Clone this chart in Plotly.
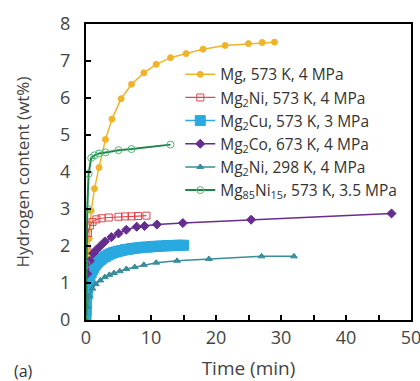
import plotly.graph_objects as go

# Mg, 573 K, 4 MPa
mg_t = [0, 0.25, 0.5, 0.8, 1.3, 2.0, 3.0, 4.0, 5.4, 7.0, 8.9, 10.8, 13.0, 15.4, 18.0, 21.4, 25.0, 27.1, 29.0]
mg_h = [0, 1.2, 2.2, 2.95, 3.55, 4.12, 4.88, 5.43, 5.98, 6.37, 6.68, 6.91, 7.09, 7.2, 7.32, 7.42, 7.47, 7.5, 7.51]

# Mg2Ni, 573 K, 4 MPa
mg2ni_t = [0.1, 0.3, 0.6, 1.0, 1.6, 2.4, 3.5, 5.0, 6.0, 7.0, 8.0, 9.3]
mg2ni_h = [1.9, 2.35, 2.55, 2.65, 2.72, 2.75, 2.77, 2.79, 2.8, 2.8, 2.81, 2.82]

# Mg2Cu, 573 K, 3 MPa
mg2cu_t = [0, 0.05, 0.1, 0.2, 0.3, 0.4, 0.5, 0.6, 0.8, 1.0, 1.2, 1.4, 1.6, 1.8, 2.0, 2.3, 2.6, 3.0, 3.4,
           3.8, 4.2, 4.6, 5.0, 5.5, 6.0, 6.5, 7.0, 7.5, 8.0, 8.5, 9.0, 9.5, 10.0, 10.5, 11.0, 11.5, 12.0,
           12.5, 13.0, 13.5, 14.0, 14.5, 15.0]
mg2cu_h = [0, 0.25, 0.45, 0.7, 0.88, 1.0, 1.1, 1.18, 1.28, 1.36, 1.42, 1.48, 1.53, 1.57, 1.6, 1.64, 1.68,
           1.72, 1.76, 1.79, 1.82, 1.84, 1.86, 1.88, 1.9, 1.91, 1.93, 1.94, 1.95, 1.96, 1.97, 1.97, 1.98,
           1.99, 1.99, 2.0, 2.0, 2.01, 2.01, 2.01, 2.02, 2.02, 2.02]

# Mg2Co, 673 K, 4 MPa
mg2co_t = [0.2, 0.6, 1.1, 1.6, 2.2, 2.9, 3.9, 5.0, 6.2, 7.8, 9.0, 10.9, 14.9, 25.4, 47.0]
mg2co_h = [1.25, 1.6, 1.8, 1.9, 2.0, 2.12, 2.24, 2.34, 2.44, 2.52, 2.54, 2.58, 2.62, 2.71, 2.88]

# Mg2Ni, 298 K, 4 MPa
mg2ni298_t = [0, 0.2, 0.5, 1.0, 1.5, 2.2, 2.9, 3.6, 4.3, 5.2, 6.2, 7.5, 8.9, 10.8, 14.0, 18.9, 27.0, 32.0]
mg2ni298_h = [0, 0.35, 0.65, 0.85, 0.97, 1.07, 1.16, 1.22, 1.27, 1.32, 1.38, 1.43, 1.49, 1.55, 1.6, 1.65, 1.72, 1.72]

# Mg85Ni15, 573 K, 3.5 MPa
mg85_t = [0, 0.1, 0.2, 0.4, 0.8, 1.3, 2.0, 3.0, 5.0, 7.0, 13.0]
mg85_h = [0, 1.5, 3.0, 3.95, 4.38, 4.45, 4.5, 4.53, 4.59, 4.62, 4.74]

x_ticks = [0, 10, 20, 30, 40, 50]
y_ticks = [0, 1, 2, 3, 4, 5, 6, 7, 8]

fig = go.Figure()

def add(t, h, name, color, symbol, size, lw, mcolor=None):
    fig.add_trace(go.Scatter(
        x=t, y=h, name=name, mode="lines+markers",
        line=dict(color=color, width=lw),
        marker=dict(symbol=symbol, size=size, color=mcolor or color,
                    line=dict(color=mcolor or color, width=1)),
    ))

add(mg_t, mg_h, "Mg, 573 K, 4 MPa", "#F0B429", "circle", 6, 1.5)
add(mg2ni_t, mg2ni_h, "Mg<sub>2</sub>Ni, 573 K, 4 MPa", "#E0474C", "square-open", 7, 1.2)
add(mg2cu_t, mg2cu_h, "Mg<sub>2</sub>Cu, 573 K, 3 MPa", "#29A9E0", "square", 10, 1.5)
add(mg2co_t, mg2co_h, "Mg<sub>2</sub>Co, 673 K, 4 MPa", "#662D91", "diamond", 7, 1.5)
add(mg2ni298_t, mg2ni298_h, "Mg<sub>2</sub>Ni, 298 K, 4 MPa", "#3A8C9A", "triangle-up", 6, 1.5)
add(mg85_t, mg85_h, "Mg<sub>85</sub>Ni<sub>15</sub>, 573 K, 3.5 MPa", "#1E8449", "circle-open", 7, 2, mcolor="#4CB874")

font_family = "Open Sans, DejaVu Sans, sans-serif"

fig.update_layout(
    width=420, height=381,
    margin=dict(l=86, r=9, t=24, b=61),
    paper_bgcolor="white", plot_bgcolor="white",
    font=dict(family=font_family, color="#333333"),
    showlegend=True,
    legend=dict(x=0.29, y=0.886, xanchor="left", yanchor="top",
                bgcolor="rgba(0,0,0,0)", font=dict(size=15.5, color="#333333"),
                tracegroupgap=0, itemwidth=30),
    xaxis=dict(range=[0, 50], tickvals=x_ticks, ticks="inside", ticklen=5, tickwidth=2,
               tickcolor="black", showline=True, linewidth=2, linecolor="black", mirror=True,
               showgrid=False, zeroline=False, tickfont=dict(size=18, color="#444444"),
               automargin=False, ticklabeloverflow="allow",
               minor=dict(dtick=5, ticks="inside", ticklen=5, tickwidth=2, tickcolor="black"),
               title=dict(text="Time (min)", font=dict(size=19, color="#444444"), standoff=21)),
    yaxis=dict(range=[0, 8], tickvals=y_ticks, ticks="inside", ticklen=5, tickwidth=2,
               tickcolor="black", showline=True, linewidth=2, linecolor="black", mirror=True,
               showgrid=False, zeroline=False, tickfont=dict(size=18, color="#444444"),
               ticklabelstandoff=10, automargin=False, ticklabeloverflow="allow",
               title=dict(text="Hydrogen content (wt%)", font=dict(size=17, color="#444444"), standoff=26)),
    annotations=[dict(text="(a)", xref="paper", yref="paper", x=-0.227, y=-0.173,
                      xanchor="left", yanchor="middle", showarrow=False,
                      font=dict(size=16, color="#333333"))],
)

fig.write_html("out.html")
